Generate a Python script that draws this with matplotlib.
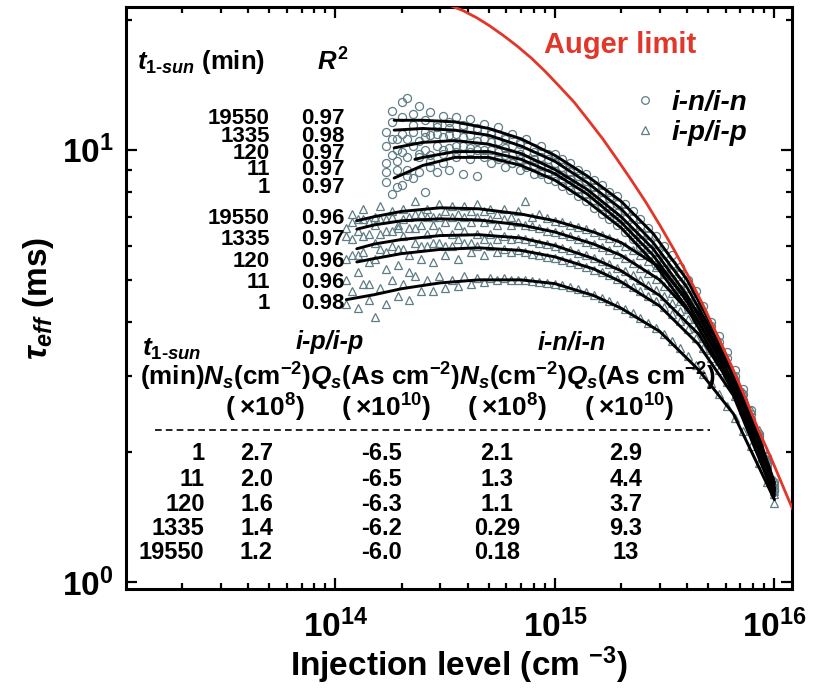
import math
import matplotlib
matplotlib.use('Agg')
import matplotlib.pyplot as plt
from matplotlib.lines import Line2D
from matplotlib.ticker import LogLocator, FuncFormatter, NullFormatter

plt.rcParams.update({
    'font.family': ['Liberation Sans', 'DejaVu Sans'],
    'font.weight': 'bold',
    'mathtext.fontset': 'custom',
    'mathtext.rm': 'Liberation Sans:bold',
    'mathtext.it': 'Liberation Sans:bold:italic',
    'mathtext.bf': 'Liberation Sans:bold',
    'mathtext.sf': 'Liberation Sans:bold',
})

# ---------------- data ----------------
# Auger limit
auger_x = [3.3e14, 3.8e14, 4.4e14, 5.0e14, 5.8e14, 6.7e14, 7.8e14, 9.0e14, 1.05e15, 1.22e15,
           1.42e15, 1.65e15, 1.92e15, 2.23e15, 2.6e15, 3.0e15, 3.5e15, 4.05e15, 4.7e15, 5.45e15,
           6.3e15, 7.3e15, 8.45e15, 9.8e15, 1.13e16, 1.25e16]
auger_y = [21.6, 21.0, 20.2, 19.4, 18.4, 17.4, 16.3, 15.2, 14.0, 12.9,
           11.7, 10.6, 9.5, 8.5, 7.55, 6.7, 5.85, 5.1, 4.4, 3.75,
           3.2, 2.7, 2.25, 1.9, 1.6, 1.42]

# i-n/i-n measured data
x_n = [1.70e14, 1.80e14, 1.90e14, 2.00e14, 2.12e14, 2.25e14, 2.40e14, 2.55e14, 2.70e14, 2.90e14,
       3.10e14, 3.30e14, 3.55e14, 3.80e14, 4.10e14, 4.40e14, 4.75e14, 5.10e14, 5.50e14, 5.90e14,
       6.40e14, 6.90e14, 7.40e14, 8.00e14, 8.60e14, 9.30e14, 1.00e15, 1.08e15, 1.17e15, 1.27e15,
       1.38e15, 1.50e15, 1.63e15, 1.77e15, 1.92e15, 2.08e15, 2.26e15, 2.45e15, 2.66e15, 2.89e15,
       3.14e15, 3.41e15, 3.70e15, 4.02e15, 4.37e15, 4.75e15, 5.16e15, 5.60e15, 6.09e15, 6.61e15,
       7.18e15, 7.80e15, 8.48e15, 9.21e15, 1.00e16]
n_19550 = [11.0, 12.3, 10.6, 12.9, 13.2, 11.4, 12.6, 11.0, 12.2, 11.3,
           12.0, 11.2, 11.9, 11.4, 11.8, 11.1, 11.5, 11.0, 11.3, 10.7,
           10.9, 10.4, 10.6, 10.1, 10.2, 9.8, 9.8, 9.5, 9.3, 9.0,
           8.8, 8.5, 8.3, 8.0, 7.8, 7.5, 7.2, 6.9, 6.6, 6.3,
           6.0, 5.7, 5.35, 5.0, 4.7, 4.35, 4.0, 3.7, 3.4, 3.1,
           2.8, 2.5, 2.2, 1.95, 1.7]
n_1335 = [10.2, 11.6, 10.0, 11.9, 10.6, 12.1, 10.5, 11.7, 10.8, 11.5,
          10.7, 11.6, 10.9, 11.3, 10.8, 11.2, 10.6, 10.9, 10.5, 10.6,
          10.2, 10.3, 9.9, 9.9, 9.6, 9.5, 9.3, 9.1, 8.9, 8.7,
          8.45, 8.2, 8.0, 7.75, 7.5, 7.2, 6.95, 6.65, 6.35, 6.05,
          5.75, 5.45, 5.15, 4.8, 4.5, 4.2, 3.9, 3.6, 3.3, 3.0,
          2.72, 2.45, 2.18, 1.92, 1.68]
n_120 = [9.3, 10.6, 9.0, 10.9, 9.6, 11.0, 9.8, 10.7, 9.7, 10.9,
         10.0, 10.8, 10.2, 10.7, 10.1, 10.5, 10.0, 10.4, 9.9, 10.1,
         9.7, 9.8, 9.5, 9.5, 9.2, 9.1, 8.95, 8.75, 8.55, 8.35,
         8.1, 7.9, 7.65, 7.4, 7.15, 6.9, 6.65, 6.4, 6.1, 5.8,
         5.5, 5.2, 4.9, 4.6, 4.3, 4.0, 3.72, 3.45, 3.17, 2.9,
         2.63, 2.38, 2.13, 1.88, 1.65]
n_11 = [8.4, 9.7, 8.2, 9.9, 8.7, 10.2, 8.9, 10.0, 9.1, 10.2,
        9.3, 10.1, 9.6, 10.2, 9.5, 10.0, 9.6, 10.0, 9.5, 9.7,
        9.3, 9.5, 9.2, 9.2, 8.9, 8.85, 8.7, 8.5, 8.3, 8.1,
        7.9, 7.65, 7.4, 7.15, 6.9, 6.65, 6.4, 6.15, 5.9, 5.6,
        5.3, 5.0, 4.75, 4.45, 4.15, 3.88, 3.6, 3.35, 3.08, 2.82,
        2.57, 2.33, 2.1, 1.86, 1.63]
n_1 = [8.9, 7.9, 9.4, 8.3, 9.0, 8.6, 9.6, 8.0, 9.4, 8.9,
       9.8, 9.0, 9.9, 8.8, 9.9, 8.7, 9.8, 9.3, 9.6, 9.1,
       9.3, 9.0, 9.1, 8.8, 8.8, 8.55, 8.45, 8.25, 8.05, 7.8,
       7.6, 7.35, 7.1, 6.9, 6.7, 6.45, 6.2, 5.95, 5.7, 5.4,
       5.15, 4.85, 4.6, 4.3, 4.05, 3.78, 3.5, 3.25, 3.0, 2.76,
       2.52, 2.3, 2.07, 1.84, 1.62]

# i-p/i-p measured data
x_p = [1.12e14, 1.19e14, 1.26e14, 1.34e14, 1.42e14, 1.51e14, 1.60e14, 1.70e14, 1.81e14, 1.92e14,
       2.04e14, 2.17e14, 2.31e14, 2.46e14, 2.62e14, 2.79e14, 2.97e14, 3.17e14, 3.38e14, 3.61e14,
       3.86e14, 4.13e14, 4.42e14, 4.74e14, 5.08e14, 5.45e14, 5.86e14, 6.30e14, 6.78e14, 7.30e14,
       7.87e14, 8.49e14, 9.17e14,
       1.00e15, 1.08e15, 1.17e15, 1.27e15, 1.38e15, 1.50e15, 1.63e15, 1.77e15, 1.92e15, 2.08e15,
       2.26e15, 2.45e15, 2.66e15, 2.89e15, 3.14e15, 3.41e15, 3.70e15, 4.02e15, 4.37e15, 4.75e15,
       5.16e15, 5.60e15, 6.09e15, 6.61e15, 7.18e15, 7.80e15, 8.48e15, 9.21e15, 1.00e16]
p_19550 = [6.6, 7.1, 6.9, 7.3, 6.8, 7.0, 7.4, 6.9, 7.2, 6.7,
           7.3, 7.0, 7.6, 7.1, 7.3, 7.0, 7.5, 7.2, 7.4, 7.1,
           7.4, 7.2, 7.5, 7.2, 7.3, 7.1, 7.3, 7.0, 7.2, 7.6,
           7.0, 7.1, 6.95,
           6.85, 6.8, 6.7, 6.62, 6.55, 6.45, 6.35, 6.25, 6.12, 6.0,
           5.85, 5.7, 5.52, 5.35, 5.15, 4.95, 4.72, 4.5, 4.25, 4.0,
           3.75, 3.5, 3.25, 3.0, 2.75, 2.5, 2.25, 1.98, 1.72]
p_1335 = [6.3, 6.8, 6.5, 6.9, 6.4, 6.7, 6.9, 6.5, 7.0, 6.6,
          6.9, 6.6, 7.1, 6.7, 7.0, 6.7, 7.0, 6.8, 7.0, 6.7,
          7.0, 6.8, 7.0, 6.8, 6.9, 6.7, 6.9, 6.7, 6.8, 6.7,
          6.65, 6.6, 6.5,
          6.45, 6.38, 6.3, 6.22, 6.13, 6.05, 5.95, 5.85, 5.73, 5.62,
          5.48, 5.33, 5.18, 5.02, 4.85, 4.67, 4.47, 4.27, 4.05, 3.83,
          3.6, 3.37, 3.14, 2.9, 2.66, 2.42, 2.18, 1.93, 1.68]
p_120 = [5.6, 6.2, 5.7, 6.3, 5.5, 6.1, 6.4, 5.8, 6.5, 5.9,
         6.3, 5.7, 6.6, 6.0, 6.4, 6.1, 6.5, 6.0, 6.4, 6.2,
         6.5, 6.1, 6.4, 6.2, 6.4, 6.2, 6.3, 6.2, 6.25, 6.2,
         6.15, 6.1, 6.05,
         6.0, 5.93, 5.86, 5.78, 5.7, 5.62, 5.53, 5.44, 5.34, 5.24,
         5.12, 5.0, 4.87, 4.73, 4.58, 4.42, 4.24, 4.05, 3.86, 3.66,
         3.45, 3.24, 3.02, 2.8, 2.57, 2.34, 2.1, 1.86, 1.62]
p_11 = [5.0, 5.7, 5.2, 5.8, 4.9, 5.6, 5.9, 5.3, 6.0, 5.4,
        5.9, 5.2, 6.1, 5.6, 6.0, 5.5, 6.1, 5.7, 6.0, 5.6,
        6.1, 5.8, 6.0, 5.7, 6.0, 5.8, 5.9, 5.8, 5.85, 5.8,
        5.75, 5.7, 5.66,
        5.62, 5.56, 5.5, 5.43, 5.36, 5.28, 5.2, 5.12, 5.02, 4.93,
        4.82, 4.71, 4.59, 4.46, 4.32, 4.17, 4.01, 3.84, 3.66, 3.48,
        3.29, 3.1, 2.9, 2.7, 2.5, 2.29, 2.07, 1.84, 1.6]
p_1 = [4.4, 4.7, 4.3, 4.9, 4.5, 4.1, 4.8, 4.4, 5.0, 4.6,
       4.9, 4.5, 5.1, 4.7, 5.0, 4.7, 5.1, 4.8, 5.0, 4.85,
       5.1, 4.9, 5.05, 4.95, 5.05, 5.0, 5.05, 5.0, 5.0, 5.0,
       4.98, 4.95, 4.93,
       4.9, 4.86, 4.81, 4.75, 4.69, 4.62, 4.54, 4.46, 4.38, 4.29,
       4.19, 4.09, 3.98, 3.86, 3.74, 3.61, 3.47, 3.33, 3.18, 3.03,
       2.88, 2.72, 2.56, 2.4, 2.23, 2.06, 1.88, 1.7, 1.52]

# fitted curves
fit_x_n = [1.85e14, 2.5e14, 3.5e14, 5e14, 7e14, 1e15, 1.4e15, 2e15, 2.8e15, 4e15, 5.5e15, 7.5e15, 1e16]
fit_n_19550 = [11.7, 11.7, 11.6, 11.2, 10.6, 9.7, 8.7, 7.6, 6.4, 5.0, 3.7, 2.6, 1.7]
fit_n_1335 = [11.1, 11.2, 11.1, 10.8, 10.2, 9.4, 8.4, 7.3, 6.1, 4.8, 3.6, 2.55, 1.68]
fit_n_120 = [10.1, 10.4, 10.5, 10.3, 9.8, 9.0, 8.1, 7.0, 5.9, 4.6, 3.45, 2.45, 1.65]
fit_x_n11 = [2.3e14, 2.5e14, 3.5e14, 5e14, 7e14, 1e15, 1.4e15, 2e15, 2.8e15, 4e15, 5.5e15, 7.5e15, 1e16]
fit_n_11 = [9.5, 9.6, 9.9, 9.9, 9.5, 8.8, 7.9, 6.8, 5.7, 4.45, 3.35, 2.4, 1.63]
fit_n_1 = [8.6, 9.2, 9.6, 9.6, 9.2, 8.5, 7.6, 6.6, 5.5, 4.3, 3.25, 2.35, 1.62]

fit_x_p = [1.25e14, 1.5e14, 2e14, 3e14, 4.5e14, 7e14, 1e15, 1.5e15, 2e15, 3e15, 4.5e15, 6.5e15, 1e16]
fit_p_19550 = [6.85, 7.0, 7.2, 7.34, 7.3, 7.1, 6.85, 6.45, 6.1, 5.35, 4.2, 3.0, 1.65]
fit_p_1335 = [6.55, 6.7, 6.85, 6.92, 6.88, 6.7, 6.45, 6.05, 5.7, 5.0, 4.0, 2.9, 1.63]
fit_p_120 = [5.9, 6.05, 6.2, 6.33, 6.36, 6.25, 6.0, 5.6, 5.25, 4.6, 3.75, 2.8, 1.6]
fit_p_11 = [5.5, 5.6, 5.75, 5.88, 5.93, 5.85, 5.65, 5.3, 4.95, 4.35, 3.55, 2.7, 1.58]
fit_x_p1 = [1.12e14, 1.5e14, 2e14, 3e14, 4.5e14, 7e14, 1e15, 1.5e15, 2e15, 3e15, 4.5e15, 6.5e15, 1e16]
fit_p_1 = [4.5, 4.62, 4.77, 4.92, 5.0, 5.0, 4.9, 4.6, 4.3, 3.8, 3.1, 2.45, 1.55]

# table texts
t_times = ['19550', '1335', '120', '11', '1']
r2_in = ['0.97', '0.98', '0.97', '0.97', '0.97']
r2_ip = ['0.96', '0.97', '0.96', '0.96', '0.98']
tab_t = ['1', '11', '120', '1335', '19550']
tab_ns_ip = ['2.7', '2.0', '1.6', '1.4', '1.2']
tab_qs_ip = ['-6.5', '-6.5', '-6.3', '-6.2', '-6.0']
tab_ns_in = ['2.1', '1.3', '1.1', '0.29', '0.18']
tab_qs_in = ['2.9', '4.4', '3.7', '9.3', '13']

# ---------------- figure ----------------
mcol = '#5f7d85'
red = '#e2362a'
fig = plt.figure(figsize=(8.18, 6.93), dpi=100)
ax = fig.add_axes([0.154, 0.150, 0.814, 0.840])
ax.set_xscale('log')
ax.set_yscale('log')
ax.set_xlim(1.11e13, 1.2e16)
ax.set_ylim(0.963, 21.4)

for ys in (n_19550, n_1335, n_120, n_11, n_1):
    ax.plot(x_n, ys, 'o', ls='none', mfc='none', mec=mcol, ms=5.8, mew=0.9, zorder=2)
for ys in (p_19550, p_1335, p_120, p_11, p_1):
    ax.plot(x_p, ys, '^', ls='none', mfc='none', mec=mcol, ms=5.8, mew=0.9, zorder=2)

for fx, fy in ((fit_x_n, fit_n_19550), (fit_x_n, fit_n_1335), (fit_x_n, fit_n_120),
               (fit_x_n11, fit_n_11), (fit_x_n, fit_n_1),
               (fit_x_p, fit_p_19550), (fit_x_p, fit_p_1335), (fit_x_p, fit_p_120),
               (fit_x_p, fit_p_11), (fit_x_p1, fit_p_1)):
    ax.plot(fx, fy, '-', color='black', lw=2.1, zorder=3, solid_capstyle='round',
            solid_joinstyle='round')

ax.plot(auger_x, auger_y, '-', color=red, lw=2.0, zorder=4, solid_joinstyle='round')

# axes styling
for sp in ax.spines.values():
    sp.set_linewidth(2.2)
ax.tick_params(which='both', direction='in', top=True, right=True, width=1.6)
ax.tick_params(which='major', length=8, labelsize=24)
ax.tick_params(which='minor', length=4)
ax.tick_params(axis='x', which='major', pad=15)
ax.tick_params(axis='y', which='major', pad=9)
ax.xaxis.set_major_locator(LogLocator(base=10, numticks=10))
ax.xaxis.set_minor_locator(LogLocator(base=10, subs=range(2, 10), numticks=30))
ax.yaxis.set_major_locator(LogLocator(base=10, numticks=10))
ax.yaxis.set_minor_locator(LogLocator(base=10, subs=range(2, 10), numticks=30))
fmt = FuncFormatter(lambda v, p: r'$10^{%d}$' % round(math.log10(v)))
ax.xaxis.set_major_formatter(fmt)
ax.yaxis.set_major_formatter(fmt)
ax.xaxis.set_minor_formatter(NullFormatter())
ax.yaxis.set_minor_formatter(NullFormatter())

ax.set_xlabel(r'Injection level (cm $^{-3}$)', fontsize=24, fontweight='bold', labelpad=0)
ax.set_ylabel(r'$\tau_{eff}$ (ms)', fontsize=24, fontweight='bold', labelpad=4)

# legend
h1 = Line2D([], [], marker='o', ls='none', mfc='none', mec=mcol, ms=5.5, mew=0.9)
h2 = Line2D([], [], marker='^', ls='none', mfc='none', mec=mcol, ms=5.5, mew=0.9)
ax.legend([h1, h2], ['i-n/i-n', 'i-p/i-p'], loc='upper left', bbox_to_anchor=(0.765, 0.857),
          frameon=False, prop={'style': 'italic', 'weight': 'bold', 'size': 20},
          handlelength=0.7, handletextpad=0.6, labelspacing=0.12, borderpad=0, borderaxespad=0)

tr = ax.transAxes
def T(x, y, s, ha='left', size=16, **kw):
    ax.text(x, y, s, transform=tr, ha=ha, va='center', fontsize=size, fontweight='bold', **kw)

T(0.742, 0.935, 'Auger limit', ha='center', size=21, color=red)

# top-left table
T(0.0165, 0.905, r'$t_{1\text{-}sun}$ (min)', size=18.5)
T(0.311, 0.905, r'$R^{2}$', ha='center', size=18.5)
rows1 = [0.809, 0.778, 0.749, 0.720, 0.689]
rows2 = [0.637, 0.600, 0.562, 0.526, 0.491]
for i in range(5):
    T(0.216, rows1[i], t_times[i], ha='right', size=16)
    T(0.328, rows1[i], r2_in[i], ha='right', size=16)
    T(0.216, rows2[i], t_times[i], ha='right', size=16)
    T(0.328, rows2[i], r2_ip[i], ha='right', size=16)

# bottom table
T(0.024, 0.411, r'$t_{1\text{-}sun}$', size=19)
T(0.306, 0.424, 'i-p/i-p', ha='center', size=18, style='italic')
T(0.670, 0.424, 'i-n/i-n', ha='center', size=18, style='italic')
T(0.021, 0.364, r'(min)$N_s$(cm$^{-2}$)$Q_s$(As cm$^{-2}$)$N_s$(cm$^{-2}$)$Q_s$(As cm$^{-2}$)',
  size=18.8)
T(0.209, 0.311, '(\u2009×10$^{8}$)', ha='center', size=19)
T(0.390, 0.311, '(\u2009×10$^{10}$)', ha='center', size=19)
T(0.572, 0.311, '(\u2009×10$^{8}$)', ha='center', size=19)
T(0.755, 0.311, '(\u2009×10$^{10}$)', ha='center', size=19)
ax.plot([0.0435, 0.877], [0.273, 0.273], transform=tr, color='black', lw=1.2,
        ls=(0, (4, 2.5)), zorder=5)
rows3 = [0.232, 0.188, 0.146, 0.104, 0.062]
for i in range(5):
    T(0.118, rows3[i], tab_t[i], ha='right', size=17)
    T(0.196, rows3[i], tab_ns_ip[i], ha='center', size=17)
    T(0.384, rows3[i], tab_qs_ip[i], ha='center', size=17)
    T(0.557, rows3[i], tab_ns_in[i], ha='center', size=17)
    T(0.751, rows3[i], tab_qs_in[i], ha='center', size=17)

fig.savefig('out.png', dpi=100)
